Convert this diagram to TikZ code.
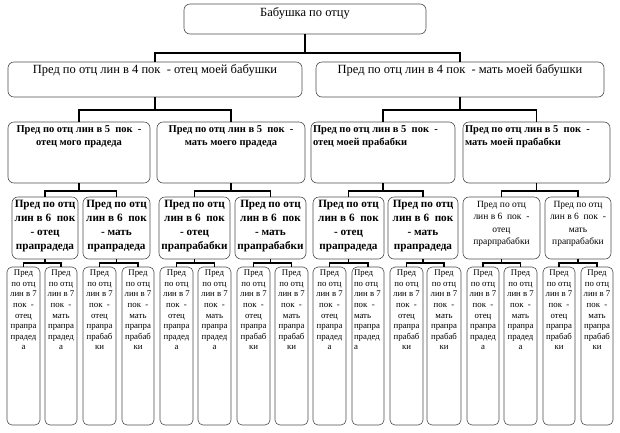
\documentclass[tikz,border=0pt]{standalone}
\usepackage{fontspec}
\setmainfont{Liberation Serif}
\tikzset{
  box/.style={draw=black!70, line width=0.6pt, rounded corners=6pt, inner sep=0pt},
  leaf/.style={box, rounded corners=5pt},
  conn/.style={draw=black, line width=1.6pt},
}
% name, x1, y1, x2, y2, node style, format, text
\newcommand\bx[8]{%
  \pgfmathsetmacro\bw{#4-#2}%
  \pgfmathsetmacro\bh{#5-#3}%
  \pgfmathsetmacro\tw{#4-#2-4}%
  \pgfmathsetmacro\th{#5-#3-2}%
  \pgfmathsetmacro\cx{(#2+#4)/2}%
  \pgfmathsetmacro\cy{(#3+#5)/2}%
  \node[#6, minimum width=\bw pt, minimum height=\bh pt] (#1) at (\cx,\cy)
    {\parbox[c][\th pt][t]{\tw pt}{#7#8}};%
}
\newcommand\leafbox[6]{%
  \bx{#1}{#2}{267}{#3}{425}{leaf}{\fontsize{8.8}{10.6}\selectfont#6\vspace*{2pt}}{Пред\\по отц\\лин в 7\\пок~ -\\#4\\прапра\\#5}}
\newcommand\gfourb[4]{%
  \bx{#1}{#2}{197}{#3}{259}{box}{\fontsize{11.2}{14}\selectfont\bfseries\centering\vspace*{2pt}}{#4}}
\newcommand\gfourr[4]{%
  \bx{#1}{#2}{197}{#3}{259}{box}{\fontsize{9.5}{12.5}\selectfont\centering\vspace*{3pt}}{#4}}
\begin{document}
\begin{tikzpicture}[x=1pt,y=-1pt]
\useasboundingbox (0,0) rectangle (620,432);
% level 1
\bx{T}{184}{4}{426}{34}{box}{\fontsize{12.5}{14}\selectfont\centering\vspace*{3pt}}{Бабушка по отцу}
% level 2
\bx{A}{8}{62}{302}{97}{box}{\fontsize{12.5}{14}\selectfont\centering\vspace*{2pt}}{Пред по отц лин в 4 пок~ - отец моей бабушки}
\bx{B}{316}{62}{604}{97}{box}{\fontsize{12.5}{14}\selectfont\centering\vspace*{2pt}}{Пред по отц лин в 4 пок~ - мать моей бабушки}
% level 3
\bx{A1}{8}{122}{150}{183}{box}{\fontsize{10.5}{12.5}\selectfont\bfseries\centering\vspace*{3pt}}{Пред по отц лин в 5~ пок~ -\\отец мого прадеда}
\bx{A2}{157}{122}{305}{183}{box}{\fontsize{10.5}{12.5}\selectfont\bfseries\centering\vspace*{3pt}}{Пред по отц лин в 5~ пок~ -\\мать моего прадеда}
\bx{B1}{311}{122}{455}{183}{box}{\fontsize{10.5}{12.5}\selectfont\bfseries\raggedright\vspace*{3pt}}{Пред по отц лин в 5~ пок~ -\\отец моей прабабки}
\bx{B2}{463}{122}{610}{183}{box}{\fontsize{10.5}{12.5}\selectfont\bfseries\raggedright\vspace*{3pt}}{Пред по отц лин в 5~ пок~ -\\мать моей прабабки}
% level 4
\gfourb{C1}{12}{78}{Пред по отц\\лин в 6~ пок\\- отец\\прапрадеда}
\gfourb{C2}{83}{150}{Пред по отц\\лин в 6~ пок\\- мать\\прапрадеда}
\gfourb{C3}{159}{230}{Пред по отц\\лин в 6~ пок\\- отец\\прапрабабки}
\gfourb{C4}{235}{306}{Пред по отц\\лин в 6~ пок\\- мать\\прапрабабки}
\gfourb{C5}{313}{384}{Пред по отц\\лин в 6~ пок\\- отец\\прапрадеда}
\gfourb{C6}{388}{458}{Пред по отц\\лин в 6~ пок\\- мать\\прапрадеда}
\gfourr{C7}{463}{540}{Пред по отц\\лин в 6~ пок~ -\\отец\\прарпрабабки}
\gfourr{C8}{545}{611}{Пред по отц\\лин в 6~ пок~ -\\мать\\прапрабабки}
% level 5
\leafbox{D1}{7}{40}{отец}{прадед\\а}{\centering}
\leafbox{D2}{45}{77}{мать}{прадед\\а}{\centering}
\leafbox{D3}{83}{116}{отец}{прабаб\\ки}{\centering}
\leafbox{D4}{122}{154}{мать}{прабаб\\ки}{\centering}
\leafbox{D5}{160}{193}{отец}{прадед\\а}{\centering}
\leafbox{D6}{198}{231}{мать}{прадед\\а}{\centering}
\leafbox{D7}{237}{270}{отец}{прабаб\\ки}{\centering}
\leafbox{D8}{275}{308}{мать}{прабаб\\ки}{\centering}
\leafbox{D9}{313}{346}{отец}{прадед\\а}{\centering}
\leafbox{D10}{352}{384}{мать}{прадед\\а}{\raggedright}
\leafbox{D11}{390}{423}{отец}{прабаб\\ки}{\centering}
\leafbox{D12}{427}{461}{мать}{прабаб\\ки}{\centering}
\leafbox{D13}{467}{499}{отец}{прадед\\а}{\centering}
\leafbox{D14}{504}{537}{мать}{прадед\\а}{\centering}
\leafbox{D15}{543}{575}{отец}{прабаб\\ки}{\centering}
\leafbox{D16}{581}{613}{мать}{прабаб\\ки}{\centering}
% connectors
\draw[conn] (T.south) -- (T.south |- 0,53) -| (A.north);
\draw[conn] (T.south |- 0,53) -| (B.north);
\foreach \p/\a/\b in {A/A1/A2, B/B1/B2} {
  \draw[conn] (\p.south) -- (\p.south |- 0,110) -| (\a.north);
  \draw[conn] (\p.south |- 0,110) -| (\b.north);
}
\foreach \p/\a/\b in {A1/C1/C2, A2/C3/C4, B1/C5/C6, B2/C7/C8} {
  \draw[conn] (\p.south) -- (\p.south |- 0,191) -| (\a.north);
  \draw[conn] (\p.south |- 0,191) -| (\b.north);
}
\foreach \p/\a/\b in {C1/D1/D2, C2/D3/D4, C3/D5/D6, C4/D7/D8, C5/D9/D10, C6/D11/D12, C7/D13/D14, C8/D15/D16} {
  \draw[conn] (\p.south) -- (\p.south |- 0,263) -| (\a.north);
  \draw[conn] (\p.south |- 0,263) -| (\b.north);
}
\end{tikzpicture}
\end{document}
